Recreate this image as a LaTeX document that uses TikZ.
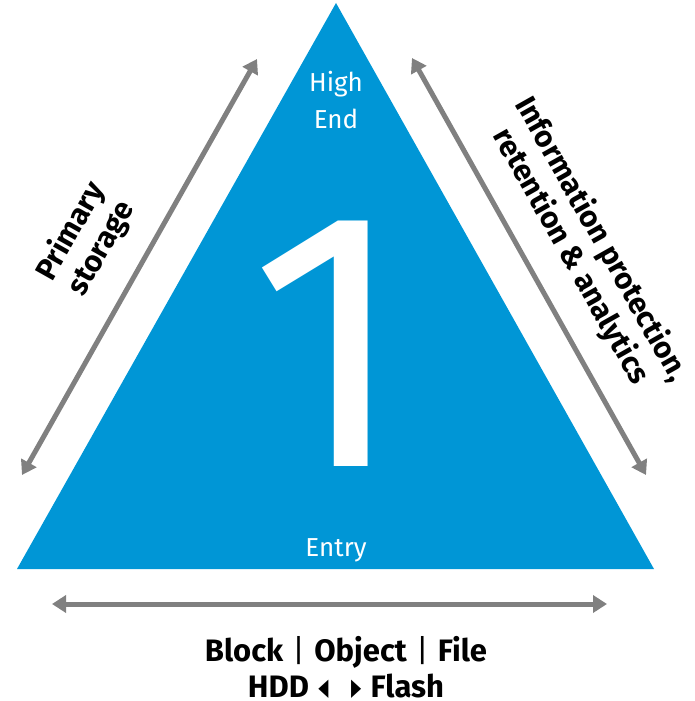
\documentclass[tikz,border=0pt]{standalone}
\usepackage{fontspec}
\setmainfont{Fira Sans}
\newfontfamily\symfont{DejaVu Sans}
\usetikzlibrary{arrows.meta}
\definecolor{hpblue}{HTML}{0096D6}
\definecolor{arrowgray}{HTML}{808080}

\begin{document}
\begin{tikzpicture}[x=1pt, y=-1pt,
    twoway/.style = {draw=arrowgray, line width=5pt,
        {Triangle[length=14pt,width=17pt]}-{Triangle[length=14pt,width=17pt]}},
    sidetext/.style = {font=\bfseries\fontsize{30}{35}\selectfont, align=center},
    inner/.style = {text=white, font=\fontsize{26}{37}\selectfont, align=center}]
\useasboundingbox (0,0) rectangle (694,701);
% triangle
\coordinate (apex) at (336,3);
\coordinate (left) at (17,569);
\coordinate (right) at (654,569);
\fill[hpblue] (apex) -- (right) -- (left) -- cycle;
\node[inner] (high) at (336,100) {High\\End};
\node[inner, anchor=base] (entry) at (336,556) {Entry};
\node[text=white, font=\fontsize{367}{367}\selectfont, anchor=base, inner sep=0pt] (one) at (329,466) {1};
% arrows
\coordinate (l1) at (22,475);
\coordinate (l2) at (257,59);
\coordinate (r1) at (412,58);
\coordinate (r2) at (646,475);
\coordinate (b1) at (52,604);
\coordinate (b2) at (607,604);
\draw[twoway] (l1) -- (l2);
\draw[twoway] (r1) -- (r2);
\draw[twoway] (b1) -- (b2);
% labels
\node[sidetext, rotate=60.6] (primary) at (86,240) {Primary\\storage};
\node[sidetext, rotate=-60.6] (info) at (586,248) {Information protection,\\retention \& analytics};
\node[sidetext, font=\bfseries\fontsize{31}{36}\selectfont] (types) at (346,667)
    {Block\hspace{0.3em}{\mdseries|}\hspace{0.3em}Object\hspace{0.3em}{\mdseries|}\hspace{0.3em}File\\
     HDD\hspace{0.3em}\raisebox{2pt}{\symfont\fontsize{24}{24}\selectfont
       \scalebox{0.55}[1]{◀}\hspace{0.95em}\scalebox{0.55}[1]{▶}}\hspace{0.3em}Flash};
\end{tikzpicture}
\end{document}
